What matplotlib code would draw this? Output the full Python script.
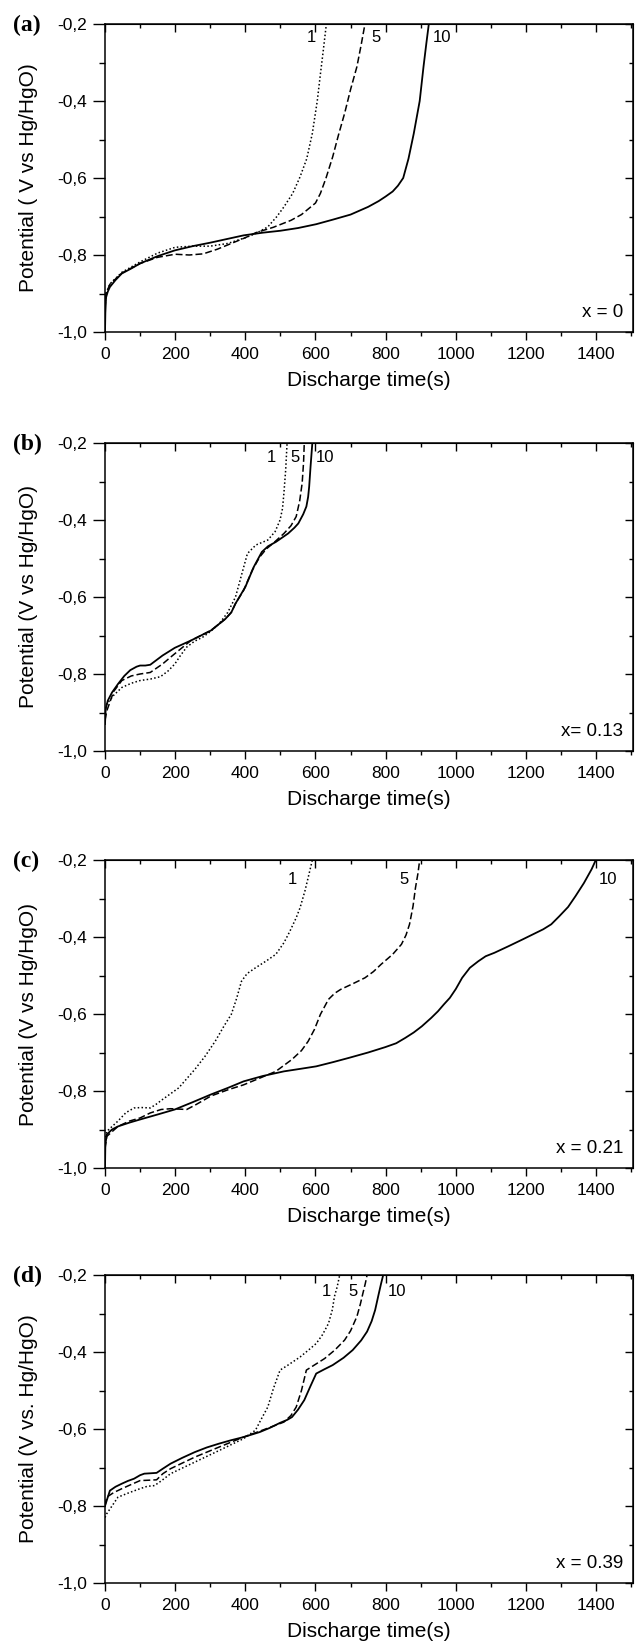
import matplotlib
matplotlib.use("Agg")
import matplotlib.pyplot as plt
from matplotlib.ticker import MultipleLocator, FuncFormatter, NullFormatter

plt.rcParams["font.family"] = ["Liberation Sans", "DejaVu Sans"]

# discharge curves, cycles 1 / 5 / 10, time (s) vs potential (V vs Hg/HgO)

# (a) x = 0
a_t1 = [0, 3, 14, 48, 100, 150, 200, 250, 300, 350, 400, 430, 464, 490, 510, 535, 556, 575, 591, 605, 614, 622, 631]
a_v1 = [-0.93, -0.9, -0.875, -0.845, -0.818, -0.795, -0.78, -0.777, -0.777, -0.77, -0.755, -0.744, -0.727, -0.7,
        -0.675, -0.64, -0.597, -0.55, -0.484, -0.40, -0.33, -0.27, -0.2]
a_t5 = [0, 3, 14, 48, 100, 150, 200, 240, 280, 320, 360, 400, 430, 480, 530, 560, 580, 600, 614, 630, 649, 665, 683,
        700, 718, 730, 741]
a_v5 = [-0.94, -0.9, -0.876, -0.847, -0.822, -0.806, -0.798, -0.8, -0.797, -0.785, -0.77, -0.755, -0.742, -0.728,
        -0.71, -0.695, -0.68, -0.665, -0.64, -0.6, -0.545, -0.49, -0.432, -0.37, -0.311, -0.255, -0.2]
a_t10 = [0, 1, 3, 8, 14, 30, 48, 75, 100, 150, 199, 250, 300, 350, 395, 450, 500, 550, 602, 650, 700, 750, 780, 800,
         820, 835, 850, 865, 880, 897, 908, 916, 923]
a_v10 = [-1.0, -0.95, -0.91, -0.895, -0.883, -0.865, -0.848, -0.835, -0.822, -0.803, -0.788, -0.777, -0.768, -0.758,
         -0.749, -0.742, -0.737, -0.73, -0.72, -0.708, -0.695, -0.675, -0.66, -0.648, -0.635, -0.62, -0.6, -0.55,
         -0.485, -0.4, -0.31, -0.25, -0.2]

# (b) x = 0.13
b_t1 = [0, 5, 25, 48, 75, 100, 130, 158, 180, 199, 215, 233, 255, 279, 300, 325, 350, 372, 390, 406, 430, 464, 485,
        499, 506, 510, 515, 519]
b_v1 = [-0.9, -0.878, -0.855, -0.835, -0.824, -0.817, -0.813, -0.807, -0.792, -0.774, -0.752, -0.73, -0.715, -0.704,
        -0.69, -0.67, -0.64, -0.6, -0.54, -0.487, -0.465, -0.452, -0.43, -0.4, -0.37, -0.33, -0.27, -0.2]
b_t5 = [0, 5, 25, 48, 75, 100, 129, 164, 190, 210, 245, 302, 343, 360, 372, 395, 420, 441, 460, 480, 510, 530, 545,
        555, 562, 566, 568]
b_v5 = [-0.92, -0.896, -0.845, -0.817, -0.805, -0.8, -0.796, -0.774, -0.754, -0.739, -0.713, -0.687, -0.657, -0.64,
        -0.617, -0.583, -0.53, -0.496, -0.475, -0.46, -0.435, -0.415, -0.391, -0.35, -0.304, -0.25, -0.2]
b_t10 = [0, 2, 8, 20, 37, 55, 72, 90, 100, 115, 129, 145, 164, 199, 245, 302, 343, 360, 372, 400, 424, 447, 465, 487,
         522, 540, 551, 565, 574, 579, 582, 586, 591]
b_v10 = [-0.93, -0.89, -0.869, -0.848, -0.826, -0.805, -0.79, -0.781, -0.778, -0.778, -0.776, -0.765, -0.752,
         -0.732, -0.713, -0.687, -0.657, -0.64, -0.617, -0.574, -0.522, -0.483, -0.468, -0.457, -0.435, -0.42,
         -0.409, -0.385, -0.365, -0.34, -0.313, -0.26, -0.2]

# (c) x = 0.21
c_t1 = [0, 5, 37, 60, 83, 105, 129, 145, 164, 210, 256, 285, 314, 340, 360, 375, 389, 405, 429, 460, 487, 510, 527,
        545, 556, 570, 579, 591]
c_v1 = [-0.93, -0.905, -0.878, -0.856, -0.844, -0.843, -0.844, -0.835, -0.822, -0.792, -0.744, -0.71, -0.671, -0.63,
        -0.601, -0.56, -0.515, -0.495, -0.48, -0.462, -0.445, -0.415, -0.385, -0.35, -0.324, -0.28, -0.246, -0.2]
c_t5 = [0, 5, 37, 70, 100, 129, 160, 187, 233, 260, 302, 350, 395, 440, 487, 533, 560, 579, 597, 614, 637, 655, 672,
        705, 741, 765, 787, 820, 845, 858, 868, 878, 885, 892, 897]
c_v5 = [-0.95, -0.918, -0.892, -0.878, -0.87, -0.857, -0.848, -0.846, -0.848, -0.835, -0.813, -0.797, -0.784,
        -0.767, -0.749, -0.718, -0.695, -0.671, -0.64, -0.601, -0.562, -0.546, -0.536, -0.522, -0.506, -0.49,
        -0.471, -0.445, -0.419, -0.395, -0.367, -0.32, -0.272, -0.235, -0.2]
c_t10 = [0, 1, 5, 20, 37, 70, 100, 150, 199, 250, 302, 350, 395, 450, 510, 560, 602, 650, 695, 750, 799, 830, 856,
         880, 903, 930, 949, 966, 983, 1000, 1018, 1040, 1064, 1085, 1110, 1150, 1191, 1220, 1249, 1272, 1295, 1320,
         1341, 1365, 1387, 1399]
c_v10 = [-1.0, -0.94, -0.913, -0.9, -0.892, -0.882, -0.874, -0.861, -0.848, -0.829, -0.809, -0.792, -0.775, -0.761,
         -0.749, -0.742, -0.736, -0.725, -0.714, -0.7, -0.686, -0.676, -0.662, -0.648, -0.632, -0.61, -0.593,
         -0.575, -0.558, -0.535, -0.506, -0.48, -0.463, -0.45, -0.441, -0.424, -0.406, -0.393, -0.38, -0.367,
         -0.346, -0.322, -0.294, -0.26, -0.224, -0.2]

# (d) x = 0.39
d_t1 = [0, 5, 37, 70, 100, 120, 141, 160, 187, 256, 325, 395, 429, 445, 464, 480, 499, 520, 556, 580, 602, 620, 637,
        648, 654, 662, 669]
d_v1 = [-0.83, -0.82, -0.777, -0.765, -0.755, -0.749, -0.747, -0.735, -0.716, -0.686, -0.656, -0.625, -0.603,
        -0.575, -0.543, -0.495, -0.447, -0.435, -0.413, -0.395, -0.378, -0.355, -0.326, -0.29, -0.256, -0.23, -0.2]
d_t5 = [0, 5, 25, 48, 75, 100, 125, 147, 165, 187, 256, 325, 395, 452, 510, 530, 545, 560, 574, 600, 626, 655, 683,
        700, 718, 728, 735, 742, 747]
d_v5 = [-0.8, -0.777, -0.765, -0.755, -0.744, -0.734, -0.733, -0.732, -0.716, -0.703, -0.673, -0.647, -0.621,
        -0.602, -0.582, -0.565, -0.543, -0.5, -0.447, -0.432, -0.417, -0.395, -0.369, -0.345, -0.308, -0.275,
        -0.248, -0.222, -0.2]
d_t10 = [0, 2, 14, 30, 48, 65, 83, 100, 112, 130, 147, 165, 187, 220, 256, 290, 325, 360, 395, 441, 470, 499, 520,
         533, 550, 568, 585, 602, 625, 649, 680, 706, 730, 747, 760, 770, 780, 787, 793]
d_v10 = [-0.8, -0.794, -0.76, -0.75, -0.742, -0.735, -0.729, -0.72, -0.716, -0.715, -0.714, -0.703, -0.69, -0.675,
         -0.66, -0.648, -0.638, -0.629, -0.621, -0.608, -0.597, -0.584, -0.576, -0.569, -0.55, -0.525, -0.49,
         -0.456, -0.445, -0.434, -0.415, -0.395, -0.37, -0.347, -0.32, -0.291, -0.25, -0.222, -0.2]

cycles = ["1", "5", "10"]
panels = [
    ("(a)", "Potential ( V vs Hg/HgO)", "x = 0",
     [(a_t1, a_v1), (a_t5, a_v5), (a_t10, a_v10)], [(589, -0.234), (773, -0.234), (960, -0.234)]),
    ("(b)", "Potential (V vs Hg/HgO)", "x= 0.13",
     [(b_t1, b_v1), (b_t5, b_v5), (b_t10, b_v10)], [(473, -0.237), (541, -0.237), (626, -0.237)]),
    ("(c)", "Potential (V vs Hg/HgO)", "x = 0.21",
     [(c_t1, c_v1), (c_t5, c_v5), (c_t10, c_v10)], [(533, -0.25), (851, -0.25), (1433, -0.25)]),
    ("(d)", "Potential (V vs. Hg/HgO)", "x = 0.39",
     [(d_t1, d_v1), (d_t5, d_v5), (d_t10, d_v10)], [(631, -0.242), (706, -0.242), (831, -0.242)]),
]

styles = [(0, (1, 1.5)), (0, (4.5, 2)), "-"]

W, H = 636, 1648
fig = plt.figure(figsize=(W / 100, H / 100), dpi=100)

tops = [24, 443, 860, 1275]
ax_h = 308
left, right = 105, 633

comma = FuncFormatter(lambda v, p: f"{v:.1f}".replace(".", ","))

for (tag, ylab, note, curves, label_pos), top in zip(panels, tops):
    ax = fig.add_axes([left / W, 1 - (top + ax_h) / H, (right - left) / W, ax_h / H])
    for (t, v), ls in zip(curves, styles):
        ax.plot(t, v, color="black", lw=1.1 if ls != "-" else 1.3, linestyle=ls)
    for name, (tx, ty) in zip(cycles, label_pos):
        ax.text(tx, ty, name, fontsize=12, ha="center", va="center")
    ax.text(0.981, 0.062, note, transform=ax.transAxes, fontsize=13.5, ha="right", va="center")

    ax.set_xlim(0, 1505)
    ax.set_ylim(-1.0, -0.2)
    ax.xaxis.set_major_locator(MultipleLocator(200))
    ax.xaxis.set_minor_locator(MultipleLocator(100))
    ax.yaxis.set_major_locator(MultipleLocator(0.2))
    ax.yaxis.set_minor_locator(MultipleLocator(0.1))
    ax.yaxis.set_major_formatter(comma)
    ax.tick_params(axis="x", which="major", direction="out", length=6, width=1, labelsize=12.5, pad=5)
    ax.tick_params(axis="x", which="minor", direction="out", length=3, width=1)
    ax.tick_params(axis="y", which="major", direction="out", length=9, width=1, labelsize=12.5, pad=4)
    ax.tick_params(axis="y", which="minor", direction="out", length=4.5, width=1)
    for s in ax.spines.values():
        s.set_linewidth(1.1)

    # top and right ticks point inward
    top_ax = ax.secondary_xaxis("top")
    top_ax.xaxis.set_major_locator(MultipleLocator(200))
    top_ax.xaxis.set_minor_locator(MultipleLocator(100))
    top_ax.xaxis.set_major_formatter(NullFormatter())
    top_ax.tick_params(which="major", direction="in", length=6, width=1)
    top_ax.tick_params(which="minor", direction="in", length=3, width=1)
    right_ax = ax.secondary_yaxis("right")
    right_ax.yaxis.set_major_locator(MultipleLocator(0.2))
    right_ax.yaxis.set_minor_locator(MultipleLocator(0.1))
    right_ax.yaxis.set_major_formatter(NullFormatter())
    right_ax.tick_params(which="major", direction="in", length=6, width=1)
    right_ax.tick_params(which="minor", direction="in", length=3, width=1)

    ax.set_xlabel("Discharge time(s)", fontsize=15, labelpad=6)
    ax.set_ylabel(ylab, fontsize=15, labelpad=14)
    fig.text(13 / W, 1 - (top + 1) / H, tag, fontsize=17, fontweight="bold",
             family="Liberation Serif", ha="left", va="center")

fig.savefig("out.png", dpi=100)
